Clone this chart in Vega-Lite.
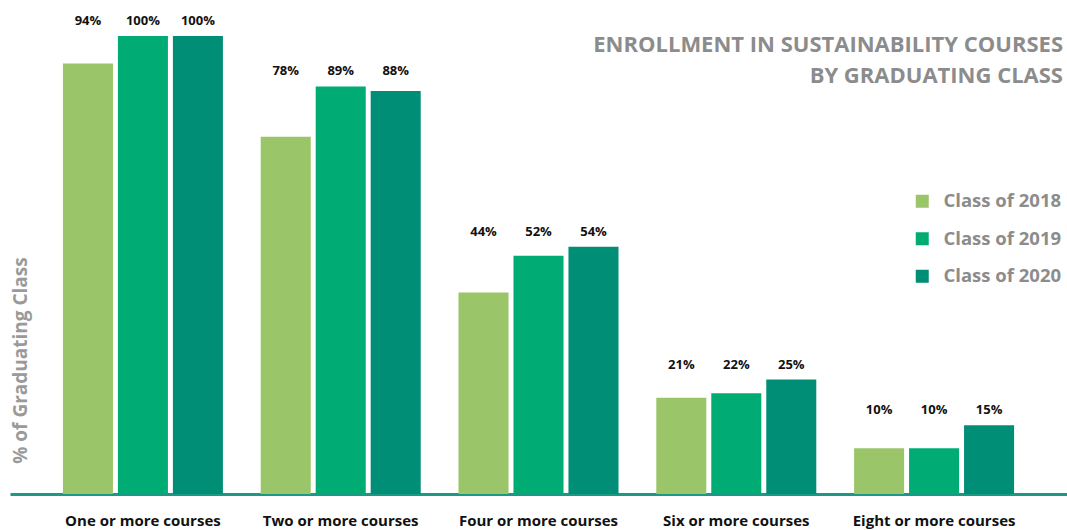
{
  "$schema": "https://vega.github.io/schema/vega-lite/v6.json",
  "width": 1057,
  "height": 458,
  "autosize": "none",
  "padding": {"left": 10, "top": 36, "right": 0, "bottom": 36},
  "background": "white",
  "config": {"view": {"stroke": null}, "font": "Open Sans"},
  "title": {
    "text": ["ENROLLMENT IN SUSTAINABILITY COURSES", "BY GRADUATING CLASS"],
    "anchor": "end",
    "frame": "group",
    "orient": "top",
    "fontSize": 22,
    "fontWeight": "bold",
    "color": "#8c8c8c",
    "lineHeight": 31,
    "offset": -73,
    "dx": -4
  },
  "data": {
    "values": [
      {"course": "One or more courses", "class": "Class of 2018", "value": 0.94},
      {"course": "One or more courses", "class": "Class of 2019", "value": 1.00},
      {"course": "One or more courses", "class": "Class of 2020", "value": 1.00},
      {"course": "Two or more courses", "class": "Class of 2018", "value": 0.78},
      {"course": "Two or more courses", "class": "Class of 2019", "value": 0.89},
      {"course": "Two or more courses", "class": "Class of 2020", "value": 0.88},
      {"course": "Four or more courses", "class": "Class of 2018", "value": 0.44},
      {"course": "Four or more courses", "class": "Class of 2019", "value": 0.52},
      {"course": "Four or more courses", "class": "Class of 2020", "value": 0.54},
      {"course": "Six or more courses", "class": "Class of 2018", "value": 0.21},
      {"course": "Six or more courses", "class": "Class of 2019", "value": 0.22},
      {"course": "Six or more courses", "class": "Class of 2020", "value": 0.25},
      {"course": "Eight or more courses", "class": "Class of 2018", "value": 0.10},
      {"course": "Eight or more courses", "class": "Class of 2019", "value": 0.10},
      {"course": "Eight or more courses", "class": "Class of 2020", "value": 0.15}
    ]
  },
  "transform": [
    {"joinaggregate": [{"op": "max", "field": "value", "as": "groupMax"}], "groupby": ["course"]}
  ],
  "encoding": {
    "x": {
      "field": "course",
      "type": "nominal",
      "sort": ["One or more courses", "Two or more courses", "Four or more courses", "Six or more courses", "Eight or more courses"],
      "scale": {"paddingInner": 0.191, "paddingOuter": 0.2675},
      "axis": {
        "title": null,
        "labelAngle": 0,
        "ticks": false,
        "grid": false,
        "domainColor": "#1a9a85",
        "domainWidth": 3,
        "labelFontSize": 15,
        "labelFontWeight": "bold",
        "labelColor": "#111111",
        "labelPadding": 19
      }
    },
    "xOffset": {
      "field": "class",
      "type": "nominal",
      "scale": {"paddingInner": 0.09, "paddingOuter": 0}
    }
  },
  "layer": [
    {
      "mark": {"type": "bar"},
      "encoding": {
        "y": {
          "field": "value",
          "type": "quantitative",
          "scale": {"domain": [0, 1]},
          "axis": {
            "title": "% of Graduating Class",
            "domain": false,
            "ticks": false,
            "labels": false,
            "grid": false,
            "titleFontSize": 19,
            "titleFontWeight": "bold",
            "titleColor": "#9a9a9a",
            "titleX": 10,
            "titleY": 324,
            "titleAngle": 270,
            "titleAlign": "center",
            "titleBaseline": "middle"
          }
        },
        "color": {
          "field": "class",
          "type": "nominal",
          "scale": {"domain": ["Class of 2018", "Class of 2019", "Class of 2020"], "range": ["#9bc569", "#00ac73", "#008e76"]},
          "legend": {
            "title": null,
            "orient": "none",
            "legendX": 903,
            "legendY": 156,
            "symbolType": "square",
            "symbolSize": 169,
            "symbolStrokeWidth": 0,
            "labelFontSize": 18.5,
            "labelFontWeight": "bold",
            "labelColor": "#8c8c8c",
            "labelOffset": 12,
            "rowPadding": 18.5
          }
        }
      }
    },
    {
      "mark": {"type": "text", "baseline": "alphabetic", "dy": -11, "fontSize": 13, "fontWeight": "bold", "color": "#111111"},
      "encoding": {
        "y": {"field": "groupMax", "type": "quantitative"},
        "text": {"field": "value", "type": "quantitative", "format": ".0%"}
      }
    }
  ]
}
